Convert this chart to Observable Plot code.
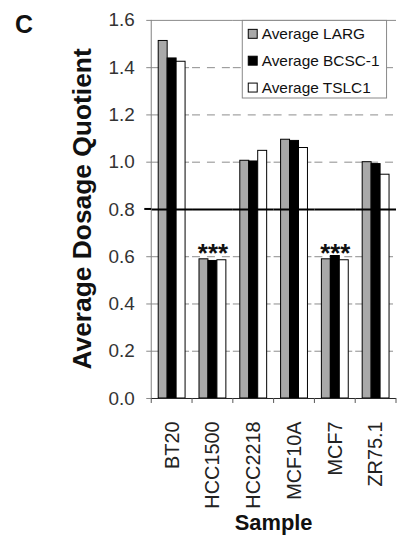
<!DOCTYPE html>
<html>
<head>
<meta charset="utf-8">
<script src="https://cdn.jsdelivr.net/npm/d3@7"></script>
<script src="https://cdn.jsdelivr.net/npm/@observablehq/plot@0.6"></script>
<style>
  html, body { margin: 0; padding: 0; background: #fff; overflow: hidden; }
  #chart svg { display: block; }
</style>
</head>
<body>
<div id="chart"></div>
<script>
// ---- data ----
const samples = ["BT20", "HCC1500", "HCC2218", "MCF10A", "MCF7", "ZR75.1"];
const series = ["Average LARG", "Average BCSC-1", "Average TSLC1"];
const largValues  = [1.513, 0.589, 1.006, 1.095, 0.589, 1.000];
const bcsc1Values = [1.439, 0.582, 1.003, 1.090, 0.603, 0.992];
const tslc1Values = [1.425, 0.585, 1.048, 1.060, 0.585, 0.947];
const yTicks = [0, 0.2, 0.4, 0.6, 0.8, 1.0, 1.2, 1.4, 1.6];
const starredSamples = ["HCC1500", "MCF7"];
const starText = "***";
const thresholdValue = 0.8;
const panelLabel = "C";
const yTitle = "Average Dosage Quotient";
const xTitle = "Sample";

// ---- styles ----
const seriesColors = ["#a9a9a9", "#000000", "#ffffff"];
const font = "'Liberation Sans', Arial, Helvetica, sans-serif";

const valuesBySeries = [largValues, bcsc1Values, tslc1Values];
const table = [];
samples.forEach((s, i) => series.forEach((k, j) => table.push({sample: s, series: k, value: valuesBySeries[j][i]})));
const stars = starredSamples.map(s => ({sample: s, value: largValues[samples.indexOf(s)]}));
const yMax = yTicks[yTicks.length - 1];

const plot = Plot.plot({
  width: 400,
  height: 543,
  marginLeft: 150,
  marginRight: 0,
  marginTop: 20,
  marginBottom: 143,
  style: {fontFamily: font, background: "#fff", overflow: "visible"},
  fx: {domain: samples, padding: 0, label: null},
  x: {domain: series, paddingInner: 0, paddingOuter: 0.74, axis: null},
  y: {domain: [0, yMax], label: null},
  color: {domain: series, range: seriesColors},
  marks: [
    Plot.gridY(yTicks.filter(t => t > 0 && t < yMax && t !== thresholdValue), {stroke: "#8c8c8c", strokeOpacity: 1, strokeDasharray: "8,7"}),
    Plot.ruleY([yMax], {stroke: "#8a8a8a"}),
    Plot.barY(table, {fx: "sample", x: "series", y: "value", fill: "series", stroke: "#000", strokeWidth: 1}),
    Plot.ruleY([thresholdValue], {stroke: "#000", strokeWidth: 2}),
    Plot.ruleY([0], {stroke: "#222"}),
    Plot.text(stars, {fx: "sample", y: "value", text: () => starText, fontSize: 26, fontWeight: "bold", lineAnchor: "bottom", dy: 3, fill: "#111", textAnchor: "middle"}),
    Plot.axisY({ticks: yTicks, tickFormat: d3.format(".1f"), tickSize: 5, tickPadding: 12, fontSize: 19, label: null, stroke: "#888"}),
    Plot.axisFx({anchor: "bottom", tickSize: 0, tickPadding: 23, tickRotate: -90, fontSize: 20, label: null})
  ]
});

document.getElementById("chart").appendChild(plot);

// ---- decorations using the plot's scales ----
const svg = d3.select(plot);
const fx = plot.scale("fx");
const y = plot.scale("y");
const x0 = fx.apply(samples[0]);
const xEnd = fx.apply(samples[samples.length - 1]) + fx.step;
const y0 = y.apply(0), yTop = y.apply(yMax);

svg.selectAll('[aria-label="y-axis tick label"] text, [aria-label="y-axis tick label"]').attr("fill", "#333");
svg.selectAll('[aria-label="fx-axis tick label"] text, [aria-label="fx-axis tick label"]').attr("fill", "#222");

const deco = svg.append("g");
// left axis line
deco.append("line").attr("x1", x0).attr("x2", x0).attr("y1", y0).attr("y2", yTop).attr("stroke", "#808080");
// threshold tick extension
deco.append("line").attr("x1", x0 - 7).attr("x2", x0).attr("y1", y.apply(thresholdValue)).attr("y2", y.apply(thresholdValue)).attr("stroke", "#000").attr("stroke-width", 2);
// category boundary ticks
const bounds = samples.map(s => fx.apply(s)).concat([xEnd]);
bounds.forEach(bx => deco.append("line").attr("x1", bx).attr("x2", bx).attr("y1", y0).attr("y2", y0 + 5).attr("stroke", "#555"));

// titles
svg.append("text").attr("transform", `translate(91,${(y0 + yTop) / 2}) rotate(-90)`)
  .attr("text-anchor", "middle").attr("font-family", font).attr("font-weight", "bold").attr("font-size", 26.5).attr("fill", "#111").text(yTitle);
svg.append("text").attr("x", (x0 + xEnd) / 2).attr("y", 533)
  .attr("text-anchor", "middle").attr("font-family", font).attr("font-weight", "bold").attr("font-size", 22).attr("fill", "#111").text(xTitle);
svg.append("text").attr("x", 15).attr("y", 33).attr("text-anchor", "start")
  .attr("font-family", font).attr("font-weight", "bold").attr("font-size", 25).attr("fill", "#111").text(panelLabel);

// legend
const lg = svg.append("g");
lg.append("rect").attr("x", 243.5).attr("y", 20.5).attr("width", 145).attr("height", 78).attr("fill", "#fff").attr("stroke", "#888");
series.forEach((k, i) => {
  const cy = 34 + i * 27;
  lg.append("rect").attr("x", 249.5).attr("y", cy - 4.5).attr("width", 9).attr("height", 9)
    .attr("fill", seriesColors[i]).attr("stroke", "#000");
  lg.append("text").attr("x", 263).attr("y", cy + 5.5).attr("text-anchor", "start").attr("font-family", font).attr("font-size", 15.5).attr("fill", "#111").text(k);
});
</script>
</body>
</html>
